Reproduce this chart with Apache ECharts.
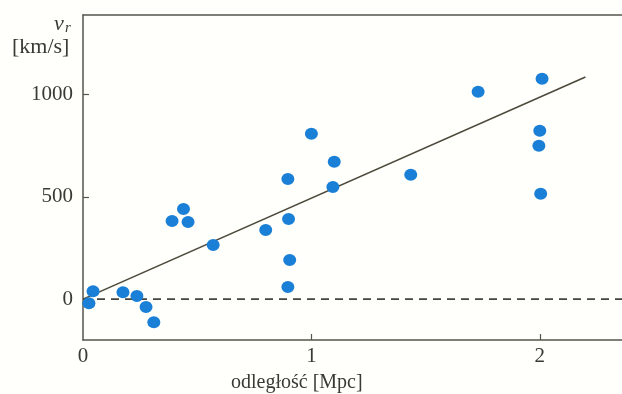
<!DOCTYPE html>
<html>
<head>
<meta charset="utf-8">
<script src="https://cdn.jsdelivr.net/npm/echarts@6/dist/echarts.min.js"></script>
<style>
  html, body { margin: 0; padding: 0; background: #fffffb; }
  #chart { width: 622px; height: 394px; }
</style>
</head>
<body>
<div id="chart"></div>
<script>
// odległość [Mpc], prędkość [km/s]
var distance = [0.026, 0.044, 0.175, 0.236, 0.276, 0.31, 0.39, 0.44, 0.46, 0.57,
  0.80, 0.897, 0.90, 0.905, 0.897, 1.0, 1.10, 1.094, 1.435, 1.73, 2.01, 2.0, 1.996, 2.004];
var velocity = [-20, 39, 34, 15, -39, -113, 382, 441, 377, 265,
  338, 588, 392, 191, 59, 809, 672, 549, 608, 1015, 1078, 824, 750, 515];
// prosta dopasowania
var fitX = [0, 2.2];
var fitY = [0, 1087];
var xTicks = [0, 1, 2];
var yTicks = [0, 500, 1000];

var ink = "#3a3a34";
var axisInk = "#55554d";
var font = "Liberation Serif";
var xMax = 2.36;

var points = distance.map(function(d, i) { return [d, velocity[i]]; });
var fitLine = fitX.map(function(d, i) { return [d, fitY[i]]; });

var chart = echarts.init(document.getElementById("chart"));
var option = {
  backgroundColor: "#fffffb",
  animation: false,
  grid: { left: 83, top: 15, right: 0, bottom: 54 },
  xAxis: [
    {
      type: "value", min: 0, max: xMax,
      splitLine: { show: false },
      axisLine: { onZero: false, lineStyle: { color: axisInk, width: 1.5 } },
      axisTick: { inside: true, length: 6, customValues: [1, 2], lineStyle: { color: axisInk, width: 1.2 } },
      axisLabel: { customValues: xTicks, color: ink, fontFamily: font, fontSize: 21, margin: 6,
        formatter: function(v) { return String(v); } }
    },
    {
      // górna krawędź ramki
      type: "value", position: "top", min: 0, max: xMax,
      splitLine: { show: false },
      axisLine: { onZero: false, lineStyle: { color: axisInk, width: 1.5 } },
      axisTick: { show: false },
      axisLabel: { show: false }
    }
  ],
  yAxis: {
    type: "value", min: -200, max: 1390,
    splitLine: { show: false },
    axisLine: { onZero: false, lineStyle: { color: axisInk, width: 1.5 } },
    axisTick: { inside: true, length: 6, customValues: [500, 1000], lineStyle: { color: axisInk, width: 1.2 } },
    axisLabel: { customValues: yTicks, color: ink, fontFamily: font, fontSize: 21, margin: 10,
      formatter: function(v) { return String(v); } }
  },
  graphic: [
    { type: "text", left: 54, top: 13,
      style: { text: "v", font: "italic 22px " + font, fill: ink } },
    { type: "text", left: 65, top: 21,
      style: { text: "r", font: "italic 15px " + font, fill: ink } },
    { type: "text", left: 12, top: 36,
      style: { text: "[km/s]", font: "22px " + font, fill: ink } },
    { type: "text", left: 231, top: 373,
      style: { text: "odległość [Mpc]", font: "20px " + font, fill: ink } }
  ],
  series: [
    {
      type: "line",
      data: [[0, 0], [xMax, 0]],
      symbol: "none",
      lineStyle: { color: "#44443e", width: 1.6, type: [8, 6] },
      z: 1
    },
    {
      type: "line",
      data: fitLine,
      symbol: "none",
      lineStyle: { color: "#4d4a3c", width: 1.6 },
      z: 2
    },
    {
      type: "scatter",
      data: points,
      symbolSize: [13, 12],
      itemStyle: { color: "#1a7fd6", opacity: 1 },
      z: 3
    }
  ]
};
chart.setOption(option);
</script>
</body>
</html>
